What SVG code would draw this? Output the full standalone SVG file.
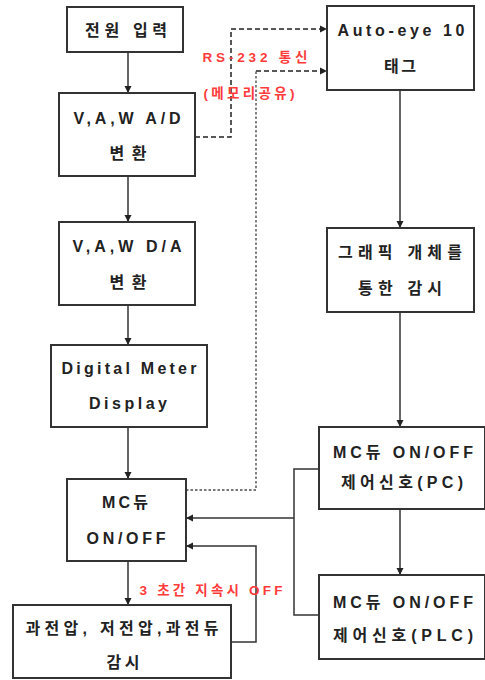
<svg xmlns="http://www.w3.org/2000/svg" width="485" height="680" viewBox="0 0 485 680">
<style>
.box{fill:#fff;stroke:#333;stroke-width:2}
.t{font-family:"Liberation Sans","Noto Sans CJK KR",sans-serif;font-weight:bold;font-size:16px;fill:#222;text-anchor:middle}
.r{font-family:"Liberation Sans","Noto Sans CJK KR",sans-serif;font-weight:bold;font-size:13.5px;fill:#ff3b3b;text-anchor:middle}
.ln{fill:none;stroke:#333;stroke-width:1.5}
.ds{fill:none;stroke:#222;stroke-width:1.5;stroke-dasharray:5 3}
.dt{fill:none;stroke:#777;stroke-width:1.8;stroke-dasharray:2.5 2}
</style>
<defs>
<marker id="ah" markerWidth="8" markerHeight="8" refX="7" refY="4" orient="auto" markerUnits="userSpaceOnUse">
<path d="M0,0.5 L7,4 L0,7.5 Z" fill="#222"/>
</marker>
</defs>
<rect width="485" height="680" fill="#fff"/>
<g id="connectors">
<path class="ln" d="M128,52 V93" marker-end="url(#ah)"/>
<path class="ln" d="M128,176 V222" marker-end="url(#ah)"/>
<path class="ln" d="M128,305 V345" marker-end="url(#ah)"/>
<path class="ln" d="M128,427 V479" marker-end="url(#ah)"/>
<path class="ln" d="M128,561 V605" marker-end="url(#ah)"/>
<path class="ln" d="M400,90 V228" marker-end="url(#ah)"/>
<path class="ln" d="M400,312 V427" marker-end="url(#ah)"/>
<path class="ln" d="M400,509 V575" marker-end="url(#ah)"/>
<path class="ds" d="M195,137 H231 V29 H327" marker-end="url(#ah)"/>
<path class="dt" d="M186,490 H256 V71"/>
<path class="ds" d="M256,71 H327" marker-end="url(#ah)"/>
<path class="ln" d="M319,469 H294 V615 H319"/>
<path class="ln" d="M294,518 H186" marker-end="url(#ah)"/>
<path class="ln" d="M231,642 H256 V546 H186" marker-end="url(#ah)"/>
</g>
<g id="n1"><rect class="box" x="67" y="7" width="116" height="45"/><text class="t" x="126" y="36" textLength="82" lengthAdjust="spacing">전원 입력</text></g>
<g id="n2"><rect class="box" x="59" y="93" width="136" height="83"/><text class="t" x="127" y="124" textLength="107" lengthAdjust="spacing">V,A,W A/D</text><text class="t" x="128" y="159" textLength="37" lengthAdjust="spacing">변환</text></g>
<g id="n3"><rect class="box" x="59" y="222" width="136" height="83"/><text class="t" x="127" y="252" textLength="109" lengthAdjust="spacing">V,A,W D/A</text><text class="t" x="128" y="288" textLength="37" lengthAdjust="spacing">변환</text></g>
<g id="n4"><rect class="box" x="51" y="345" width="156" height="82"/><text class="t" x="129" y="374" textLength="135" lengthAdjust="spacing">Digital Meter</text><text class="t" x="128" y="409" textLength="78" lengthAdjust="spacing">Display</text></g>
<g id="n5"><rect class="box" x="67" y="479" width="119" height="82"/><text class="t" x="125" y="508" textLength="46" lengthAdjust="spacing">MC듀</text><text class="t" x="126" y="544" textLength="79" lengthAdjust="spacing">ON/OFF</text></g>
<g id="n6"><rect class="box" x="13" y="605" width="218" height="73"/><text class="t" x="122" y="634" textLength="193" lengthAdjust="spacing">과전압, 저전압,과전듀</text><text class="t" x="123" y="668" textLength="33" lengthAdjust="spacing">감시</text></g>
<g id="n7"><rect class="box" x="327" y="6" width="147" height="84"/><text class="t" x="401" y="36" textLength="127" lengthAdjust="spacing">Auto-eye 10</text><text class="t" x="400" y="72" textLength="32" lengthAdjust="spacing">태그</text></g>
<g id="n8"><rect class="box" x="327" y="228" width="147" height="84"/><text class="t" x="400" y="258" textLength="124" lengthAdjust="spacing">그래픽 개체를</text><text class="t" x="400" y="294" textLength="84" lengthAdjust="spacing">통한 감시</text></g>
<g id="n9"><rect class="box" x="319" y="427" width="166" height="82"/><text class="t" x="403" y="458" textLength="140" lengthAdjust="spacing">MC듀 ON/OFF</text><text class="t" x="402" y="488" textLength="122" lengthAdjust="spacing">제어신호(PC)</text></g>
<g id="n10"><rect class="box" x="319" y="575" width="166" height="84"/><text class="t" x="403" y="608" textLength="140" lengthAdjust="spacing">MC듀 ON/OFF</text><text class="t" x="403" y="641" textLength="140" lengthAdjust="spacing">제어신호(PLC)</text></g>
<g id="labels">
<text class="r" x="255" y="62" textLength="105" lengthAdjust="spacing">RS-232 통신</text>
<text class="r" x="249" y="98" textLength="91" lengthAdjust="spacing">(메모리공유)</text>
<text class="r" x="211" y="595" textLength="143" lengthAdjust="spacing">3 초간 지속시  OFF</text>
</g>
</svg>
